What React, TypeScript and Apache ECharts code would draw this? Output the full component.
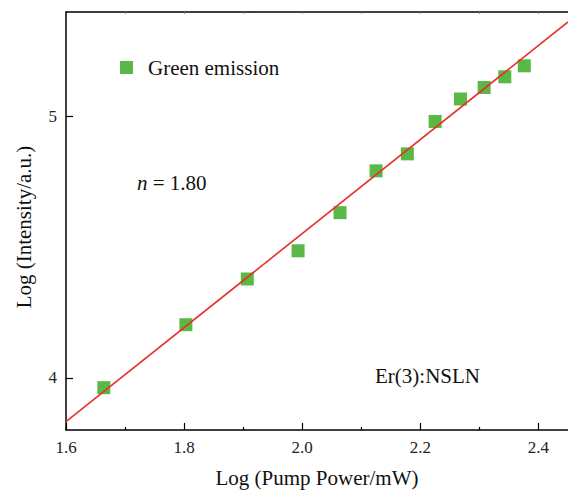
import React, { useEffect, useRef } from "react";
import * as echarts from "echarts";

const powerLog = [1.664, 1.803, 1.907, 1.993, 2.064, 2.125, 2.178, 2.225, 2.268, 2.308, 2.343, 2.376];
const intensityLog = [3.962, 4.203, 4.378, 4.486, 4.632, 4.792, 4.857, 4.981, 5.067, 5.111, 5.152, 5.194];
const fitSlope = 1.8;
const fitIntercept = 0.952;
const fitX = [1.6, 2.45];
const xMajorTicks = [1.6, 1.8, 2.0, 2.2, 2.4];
const xMinorTicks = [1.7, 1.9, 2.1, 2.3];
const xTopTicks = [1.7, 1.8, 1.9, 2.0, 2.1, 2.2, 2.3, 2.4];
const yTicks = [4, 5];

const FONT = '"Liberation Serif", "Times New Roman", serif';

export default function App() {
  const ref = useRef<HTMLDivElement>(null);
  useEffect(() => {
    if (!ref.current) return;
    const chart = echarts.init(ref.current, null, { renderer: "svg" });
    const scatterData = powerLog.map((x, i) => [x, intensityLog[i]]);
    const fitData = fitX.map((x) => [x, fitIntercept + fitSlope * x]);
    const baseX = {
      type: "value",
      min: 1.6,
      max: 2.45,
      splitLine: { show: false },
    };
    chart.setOption({
      animation: false,
      backgroundColor: "#ffffff",
      grid: { left: 66, top: 12, right: -2, bottom: 60, containLabel: false },
      legend: {
        data: [{ name: "Green emission", icon: "rect" }],
        left: 115,
        top: 52,
        itemWidth: 13,
        itemHeight: 13,
        textStyle: { fontFamily: FONT, fontSize: 21, color: "#111", padding: [0, 0, 0, 10] },
      },
      xAxis: [
        {
          ...baseX,
          position: "bottom",
          name: "Log (Pump Power/mW)",
          nameLocation: "middle",
          nameGap: 37,
          nameTextStyle: { fontFamily: FONT, fontSize: 21, color: "#111" },
          axisLine: { show: true, lineStyle: { color: "#000", width: 1.5 } },
          axisTick: { show: true, inside: true, length: 7, customValues: xMajorTicks, lineStyle: { color: "#000", width: 1.2 } },
          axisLabel: {
            customValues: xMajorTicks,
            formatter: (v: number) => v.toFixed(1),
            fontFamily: FONT,
            fontSize: 17,
            color: "#222",
            margin: 9,
          },
        },
        {
          ...baseX,
          position: "bottom",
          axisLine: { show: false },
          axisTick: { show: true, inside: true, length: 3, customValues: xMinorTicks, lineStyle: { color: "#000", width: 1.2 } },
          axisLabel: { show: false },
        },
        {
          ...baseX,
          position: "top",
          axisLine: { show: true, lineStyle: { color: "#000", width: 1.5 } },
          axisTick: { show: true, inside: true, length: 2, customValues: xTopTicks, lineStyle: { color: "#888", width: 1 } },
          axisLabel: { show: false },
        },
      ],
      yAxis: [
        {
          type: "value",
          min: 3.8,
          max: 5.4,
          position: "left",
          splitLine: { show: false },
          axisLine: { show: true, lineStyle: { color: "#000", width: 1.5 } },
          axisTick: { show: true, inside: true, length: 7, customValues: yTicks, lineStyle: { color: "#000", width: 1.2 } },
          axisLabel: {
            customValues: yTicks,
            formatter: (v: number) => String(v),
            fontFamily: FONT,
            fontSize: 17,
            color: "#222",
            margin: 9,
          },
        },
      ],
      series: [
        {
          name: "Green emission",
          type: "scatter",
          xAxisIndex: 0,
          yAxisIndex: 0,
          symbol: "rect",
          symbolSize: 13,
          itemStyle: { color: "#5ab946", opacity: 1 },
          data: scatterData,
          z: 2,
        },
        {
          name: "Fit",
          type: "line",
          xAxisIndex: 0,
          yAxisIndex: 0,
          showSymbol: false,
          symbol: "none",
          lineStyle: { color: "#e8302a", width: 1.6 },
          data: fitData,
          z: 3,
        },
      ],
      graphic: [
        {
          type: "text",
          x: 24,
          y: 227,
          rotation: Math.PI / 2,
          style: {
            text: "Log (Intensity/a.u.)",
            fontFamily: FONT,
            fontSize: 21,
            fill: "#111",
            textAlign: "center",
            textVerticalAlign: "middle",
          },
        },
        {
          type: "text",
          x: 137,
          y: 183,
          style: {
            text: "{i|n} = 1.80",
            rich: { i: { fontStyle: "italic", fontFamily: FONT, fontSize: 21, fill: "#111" } },
            fontFamily: FONT,
            fontSize: 21,
            fill: "#111",
            textAlign: "left",
            textVerticalAlign: "middle",
          },
        },
        {
          type: "text",
          x: 375,
          y: 376,
          style: {
            text: "Er(3):NSLN",
            fontFamily: FONT,
            fontSize: 21,
            fill: "#111",
            textAlign: "left",
            textVerticalAlign: "middle",
          },
        },
      ],
    });
    return () => chart.dispose();
  }, []);
  return (
    <div
      ref={ref}
      style={{ position: "fixed", left: 0, top: 0, width: 568, height: 493, background: "#fff" }}
    />
  );
}
